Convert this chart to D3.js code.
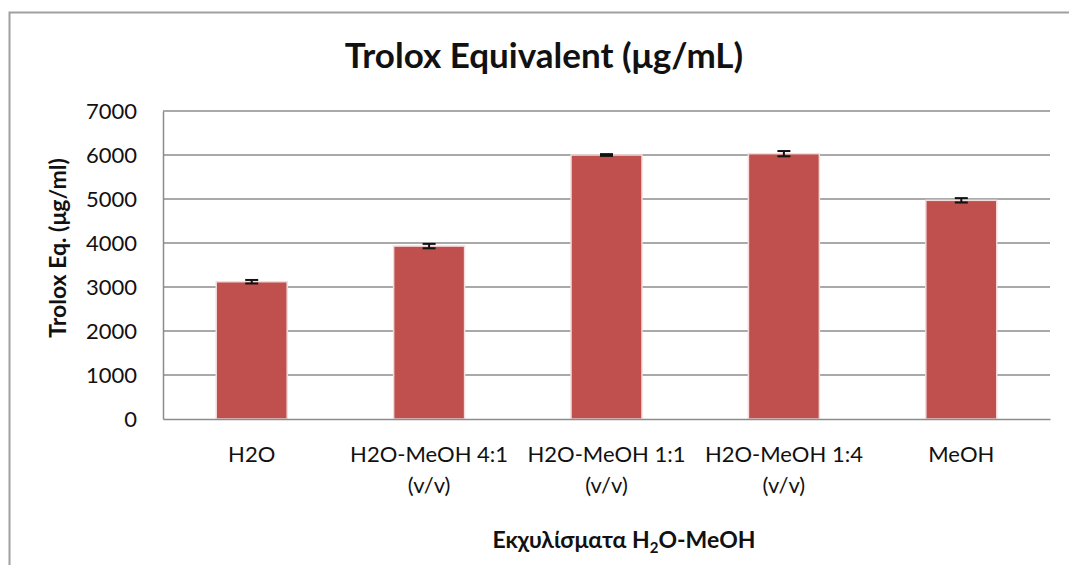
<!DOCTYPE html>
<html>
<head>
<meta charset="utf-8">
<script src="https://cdn.jsdelivr.net/npm/d3@7"></script>
<style>
  body { margin: 0; background: #fff; }
  svg, svg text { font-family: Lato, "Open Sans", sans-serif; }
</style>
</head>
<body>
<script>
// values
var categories = ["H2O", "H2O-MeOH 4:1\n(v/v)", "H2O-MeOH 1:1\n(v/v)", "H2O-MeOH 1:4\n(v/v)", "MeOH"];
var values = [3120, 3930, 6000, 6030, 4970];
var errors = [40, 50, 20, 60, 50];
var yTicks = [0, 1000, 2000, 3000, 4000, 5000, 6000, 7000];

var W = 1069, H = 565;
var margin = {top: 111, right: 19, bottom: 146, left: 163};
var width = W - margin.left - margin.right,
    height = H - margin.top - margin.bottom;

var svg = d3.select("body").append("svg")
  .attr("width", W)
  .attr("height", H);

// outer frame (runs off the right and bottom edges)
svg.append("rect")
  .attr("x", 9.5).attr("y", 12.5)
  .attr("width", W + 20).attr("height", H + 20)
  .attr("fill", "none")
  .attr("stroke", "#a0a0a0")
  .attr("stroke-width", 2);

var g = svg.append("g")
  .attr("transform", "translate(" + margin.left + "," + margin.top + ")");

var xScale = d3.scaleBand()
  .domain(categories)
  .range([0, width])
  .paddingInner(0.6)
  .paddingOuter(0.3);

var yScale = d3.scaleLinear()
  .domain([0, 7000])
  .range([height, 0]);

// grid lines
g.selectAll(".grid")
  .data(yTicks.slice(1))
  .enter().append("line")
  .attr("class", "grid")
  .attr("x1", 0).attr("x2", width)
  .attr("y1", function(d) { return yScale(d); })
  .attr("y2", function(d) { return yScale(d); })
  .attr("stroke", "#8c8c8c")
  .attr("stroke-width", 1.5);

var yAxis = d3.axisLeft(yScale)
  .tickValues(yTicks)
  .tickFormat(d3.format("d"))
  .tickSize(0)
  .tickPadding(26);

var yg = g.append("g")
  .attr("class", "y axis")
  .call(yAxis)
  .attr("font-family", "Lato, sans-serif")
  .attr("font-size", 22);
yg.select(".domain").attr("stroke", "#8c8c8c").attr("stroke-width", 1.5);
yg.selectAll(".tick text").attr("fill", "#111");

// bars
g.selectAll(".bar")
  .data(values)
  .enter().append("rect")
  .attr("class", "bar")
  .attr("x", function(d, i) { return xScale(categories[i]); })
  .attr("width", xScale.bandwidth())
  .attr("y", function(d) { return yScale(d); })
  .attr("height", function(d) { return height - yScale(d); })
  .attr("fill", "#c0504d")
  .attr("stroke", "#f3dcdb")
  .attr("stroke-width", 1.5);

// error bars
var err = g.selectAll(".err")
  .data(values)
  .enter().append("g")
  .attr("class", "err")
  .attr("stroke", "#111")
  .attr("stroke-width", 2);

err.append("line")
  .attr("x1", function(d, i) { return xScale(categories[i]) + xScale.bandwidth() / 2; })
  .attr("x2", function(d, i) { return xScale(categories[i]) + xScale.bandwidth() / 2; })
  .attr("y1", function(d, i) { return yScale(d + errors[i]); })
  .attr("y2", function(d, i) { return yScale(d - errors[i]); });

[1, -1].forEach(function(sgn) {
  err.append("line")
    .attr("x1", function(d, i) { return xScale(categories[i]) + xScale.bandwidth() / 2 - 6.5; })
    .attr("x2", function(d, i) { return xScale(categories[i]) + xScale.bandwidth() / 2 + 6.5; })
    .attr("y1", function(d, i) { return yScale(d + sgn * errors[i]); })
    .attr("y2", function(d, i) { return yScale(d + sgn * errors[i]); });
});

// x axis
var xAxis = d3.axisBottom(xScale)
  .tickSize(0)
  .tickPadding(0)
  .tickFormat("");

var xg = g.append("g")
  .attr("class", "x axis")
  .attr("transform", "translate(0," + height + ")")
  .call(xAxis)
  .attr("font-family", "Lato, sans-serif")
  .attr("font-size", 22);
xg.select(".domain").attr("stroke", "#8c8c8c").attr("stroke-width", 1.5);

xg.selectAll(".tick").append("text")
  .attr("fill", "#111")
  .attr("text-anchor", "middle")
  .selectAll("tspan")
  .data(function(d) { return d.split("\n"); })
  .enter().append("tspan")
  .attr("x", 0)
  .attr("y", function(d, i) { return 43 + i * 31; })
  .text(function(d) { return d; });

// titles
svg.append("text")
  .attr("x", 544).attr("y", 68)
  .attr("text-anchor", "middle")
  .attr("font-weight", "bold")
  .attr("font-size", 35)
  .attr("fill", "#111")
  .text("Trolox Equivalent (μg/mL)");

svg.append("text")
  .attr("transform", "translate(66,248) rotate(-90)")
  .attr("text-anchor", "middle")
  .attr("font-weight", "bold")
  .attr("font-size", 23)
  .attr("fill", "#111")
  .text("Trolox Eq. (μg/ml)");

var xt = svg.append("text")
  .attr("x", 624).attr("y", 548)
  .attr("text-anchor", "middle")
  .attr("font-weight", "bold")
  .attr("font-size", 23)
  .attr("fill", "#111");
xt.append("tspan").text("Εκχυλίσματα H");
xt.append("tspan").attr("font-size", 15).attr("dy", 5).text("2");
xt.append("tspan").attr("dy", -5).text("O-MeOH");
</script>
</body>
</html>
